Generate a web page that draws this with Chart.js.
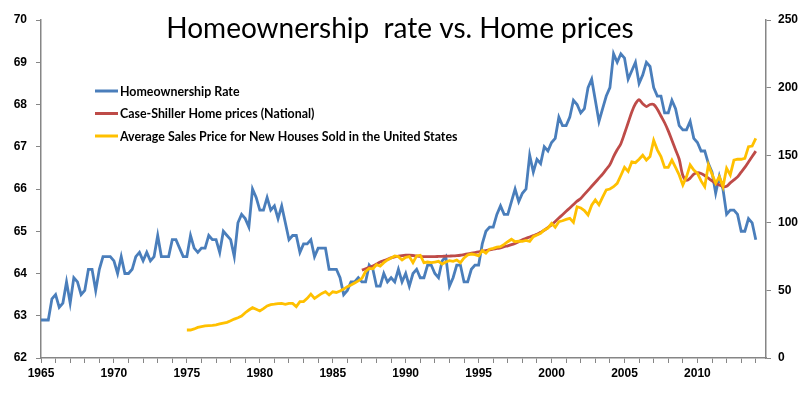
<!DOCTYPE html>
<html>
<head>
<meta charset="utf-8">
<script src="https://cdn.jsdelivr.net/npm/chart.js@4.4.1/dist/chart.umd.min.js"></script>
<style>
  body { margin: 0; background: #fff; }
  #wrap { width: 800px; height: 397px; position: relative; }
</style>
</head>
<body>
<div id="wrap"><canvas id="chart"></canvas></div>
<script>
// quarterly values, first entry is Q1 of the start year
const ownershipStart = 1965;
const ownershipRate = [
  62.9, 62.9, 62.9, 63.4,  63.5, 63.2, 63.3, 63.8,  63.3, 63.9, 63.8, 63.5,
  63.6, 64.1, 64.1, 63.6,  64.1, 64.4, 64.4, 64.4,  64.3, 64.0, 64.4, 64.0,
  64.0, 64.1, 64.4, 64.5,  64.3, 64.5, 64.3, 64.4,  64.9, 64.4, 64.4, 64.4,
  64.8, 64.8, 64.6, 64.4,  64.4, 64.9, 64.6, 64.5,  64.6, 64.6, 64.9, 64.8,
  64.8, 64.5, 65.0, 64.9,  64.8, 64.4, 65.2, 65.4,  65.3, 65.1, 66.0, 65.8,
  65.5, 65.5, 65.8, 65.5,  65.6, 65.3, 65.6, 65.2,  64.8, 64.9, 64.9, 64.5,
  64.7, 64.7, 64.8, 64.4,  64.6, 64.6, 64.6, 64.1,  64.1, 64.1, 63.9, 63.5,
  63.6, 63.8, 63.8, 63.9,  63.8, 63.8, 64.2, 64.1,  63.7, 63.7, 64.0, 63.8,
  63.9, 63.8, 64.1, 63.8,  64.0, 63.7, 64.0, 64.1,  63.9, 63.9, 64.2, 64.2,
  64.0, 63.9, 64.3, 64.4,  63.7, 63.9, 64.2, 64.2,  63.8, 63.8, 64.1, 64.2,
  64.2, 64.7, 65.0, 65.1,  65.1, 65.4, 65.6, 65.4,  65.4, 65.7, 66.0, 65.7,
  65.9, 66.0, 66.8, 66.4,  66.7, 66.6, 67.0, 66.9,  67.1, 67.2, 67.7, 67.5,
  67.5, 67.7, 68.1, 68.0,  67.8, 67.9, 68.4, 68.6,  68.1, 67.6, 67.9, 68.2,
  68.4, 69.2, 69.0, 69.2,  69.1, 68.6, 68.8, 69.0,  68.5, 68.7, 69.0, 68.9,
  68.4, 68.2, 68.2, 67.8,  67.8, 68.1, 67.9, 67.5,  67.4, 67.4, 67.6, 67.2,
  67.1, 66.9, 66.9, 66.6,  66.4, 65.9, 66.3, 66.0,  65.4, 65.5, 65.5, 65.4,
  65.0, 65.0, 65.3, 65.2,  64.8
];

const caseShillerStart = 1987;
const caseShiller = [
  65, 66, 67, 68,  69.5, 71, 72, 73,  74, 74.8, 75.4, 75.8,  76, 76, 75.8, 75.5,
  75.2, 75, 75, 75,  75, 75.1, 75.2, 75.3,  75.4, 75.5, 75.7, 76,  76.5, 77, 77.5, 78,
  78.5, 79, 79.5, 80,  80.5, 81, 81.5, 82.3,  83, 83.8, 84.8, 86,  87.5, 88.5, 89.5, 90.5,
  91.5, 93, 94.5, 96.5,  98.5, 101, 103.5, 106,  108.5, 111, 113.5, 116,  118, 121, 124, 127,
  130, 133, 136, 139.5,  143, 149, 154, 158.5,  166, 174, 182, 188,  191, 188, 186, 187.5,
  187.5, 184, 179, 174,  168, 161, 154, 147,  135, 131.5, 133, 136,  137, 136.5, 135, 133,
  131, 129, 128, 126.7,  127, 129.5, 131.7, 134,  137.5, 141, 145, 149,  153
];

const newHouseStart = 1975;
const newHousePrice = [
  20.7, 20.7, 21.5, 22.6,  23.2, 23.7, 24.0, 24.2,  24.5, 25.2, 25.8, 26.4,
  27.5, 28.8, 29.8, 31.0,  33.5, 35.5, 37.2, 36.0,  34.8, 36.5, 38.5, 39.5,
  39.8, 40.2, 40.4, 39.7,  40.4, 40.4, 38.0, 41.7,  41.7, 44.1, 47.3, 44.1,
  46.0, 47.8, 49.0, 46.6,  49.0, 48.5, 49.6, 51.0,  52.8, 54.0, 55.5, 57.0,
  58.9, 64.0, 66.3, 66.0,  69.0, 68.0, 70.5, 72.5,  74.0, 75.5, 75.0, 72.5,
  74.5, 75.0, 70.5, 75.5,  76.0, 70.5, 71.0, 70.5,  71.0, 71.5, 69.5, 71.0,
  72.0, 71.5, 72.5, 70.5,  74.0, 76.2, 76.9, 76.5,  75.5, 79.5, 77.5, 80.5,
  81.1, 82.0, 82.3, 84.0,  86.0, 87.8, 86.0, 86.5,  86.3, 87.0, 86.3, 89.7,
  91.0, 92.2, 94.7, 96.0,  99.6, 96.7, 100.8, 101.5,  102.5, 103.3, 100.3, 111.9,
  111.0, 109.0, 105.8, 113.0,  116.9, 113.3, 119.0, 124.3,  125.0, 126.7, 129.2, 135.0,
  141.0, 138.0, 145.0, 144.5,  147.0, 150.0, 146.4, 149.0,  161.0, 154.0, 149.0, 141.0,
  141.0, 146.4, 141.0, 135.4,  128.0, 134.0, 142.8, 139.0,  136.6, 131.0, 126.7, 142.8,
  136.0, 129.2, 134.1, 126.7,  140.3, 135.4, 146.4, 147.0,  147.0, 147.7, 156.3, 156.8,
  162.5
];

const leftTicks = { min: 62, max: 70, step: 1 };
const rightTicks = { min: 0, max: 250, step: 50 };
const titleText = 'Homeownership  rate vs. Home prices';

function quarterly(start, values) {
  return values.map((v, i) => ({ x: start + i / 4, y: v }));
}

const tickFont = { family: 'Liberation Sans', weight: 'bold', size: 12 };
const axisGrey = '#868686';

// title and legend sit inside the plot, like the original
const overlay = {
  id: 'overlay',
  afterDraw(chart) {
    const ctx = chart.ctx;
    ctx.save();
    ctx.fillStyle = '#000';
    ctx.font = '28px Lato';
    ctx.textAlign = 'center';
    ctx.textBaseline = 'alphabetic';
    ctx.fillText(titleText, 400, 38);

    ctx.font = 'bold 12.4px Lato';
    ctx.textAlign = 'left';
    ctx.textBaseline = 'middle';
    chart.data.datasets.forEach((ds, i) => {
      const y = 91 + i * 22.5;
      ctx.strokeStyle = ds.borderColor;
      ctx.lineWidth = 3;
      ctx.beginPath();
      ctx.moveTo(95, y);
      ctx.lineTo(118, y);
      ctx.stroke();
      ctx.fillText(ds.label, 120, y + 0.5);
    });
    ctx.restore();
  }
};

new Chart(document.getElementById('chart'), {
  type: 'line',
  data: {
    datasets: [
      {
        label: 'Homeownership Rate',
        data: quarterly(ownershipStart, ownershipRate),
        borderColor: '#4A7EBB',
        borderWidth: 2.8,
        pointRadius: 0,
        yAxisID: 'y',
        order: 3
      },
      {
        label: 'Case-Shiller Home prices (National)',
        data: quarterly(caseShillerStart, caseShiller),
        borderColor: '#BE4B48',
        borderWidth: 2.8,
        pointRadius: 0,
        tension: 0.3,
        yAxisID: 'y1',
        order: 2
      },
      {
        label: 'Average Sales Price for New Houses Sold in the United States',
        data: quarterly(newHouseStart, newHousePrice),
        borderColor: '#FFC000',
        borderWidth: 2.8,
        pointRadius: 0,
        yAxisID: 'y1',
        order: 1
      }
    ]
  },
  options: {
    responsive: true,
    maintainAspectRatio: false,
    animation: false,
    layout: { padding: { top: 20, left: 0, right: 0, bottom: 0 } },
    plugins: {
      legend: { display: false },
      title: { display: false },
      tooltip: { enabled: false }
    },
    scales: {
      x: {
        type: 'linear',
        min: 1965,
        max: 2014.7,
        ticks: {
          stepSize: 1,
          autoSkip: false,
          maxRotation: 0,
          includeBounds: false,
          padding: 3,
          color: '#000',
          font: tickFont,
          callback: v => (v % 5 === 0 ? v : '')
        },
        grid: { drawOnChartArea: false, tickLength: 5, color: axisGrey },
        border: { color: axisGrey, width: 1.5 },
        afterFit: s => { s.height = 39; }
      },
      y: {
        position: 'left',
        min: leftTicks.min,
        max: leftTicks.max,
        ticks: { stepSize: leftTicks.step, color: '#000', font: tickFont, padding: 9 },
        grid: { drawOnChartArea: false, tickLength: 5, color: axisGrey },
        border: { color: axisGrey, width: 1.5 },
        afterFit: s => { s.width = 41; }
      },
      y1: {
        position: 'right',
        min: rightTicks.min,
        max: rightTicks.max,
        ticks: { stepSize: rightTicks.step, color: '#000', font: tickFont, padding: 7 },
        grid: { drawOnChartArea: false, tickLength: 5, color: axisGrey },
        border: { color: axisGrey, width: 1.5 },
        afterFit: s => { s.width = 34; }
      }
    }
  },
  plugins: [overlay]
});
</script>
</body>
</html>
